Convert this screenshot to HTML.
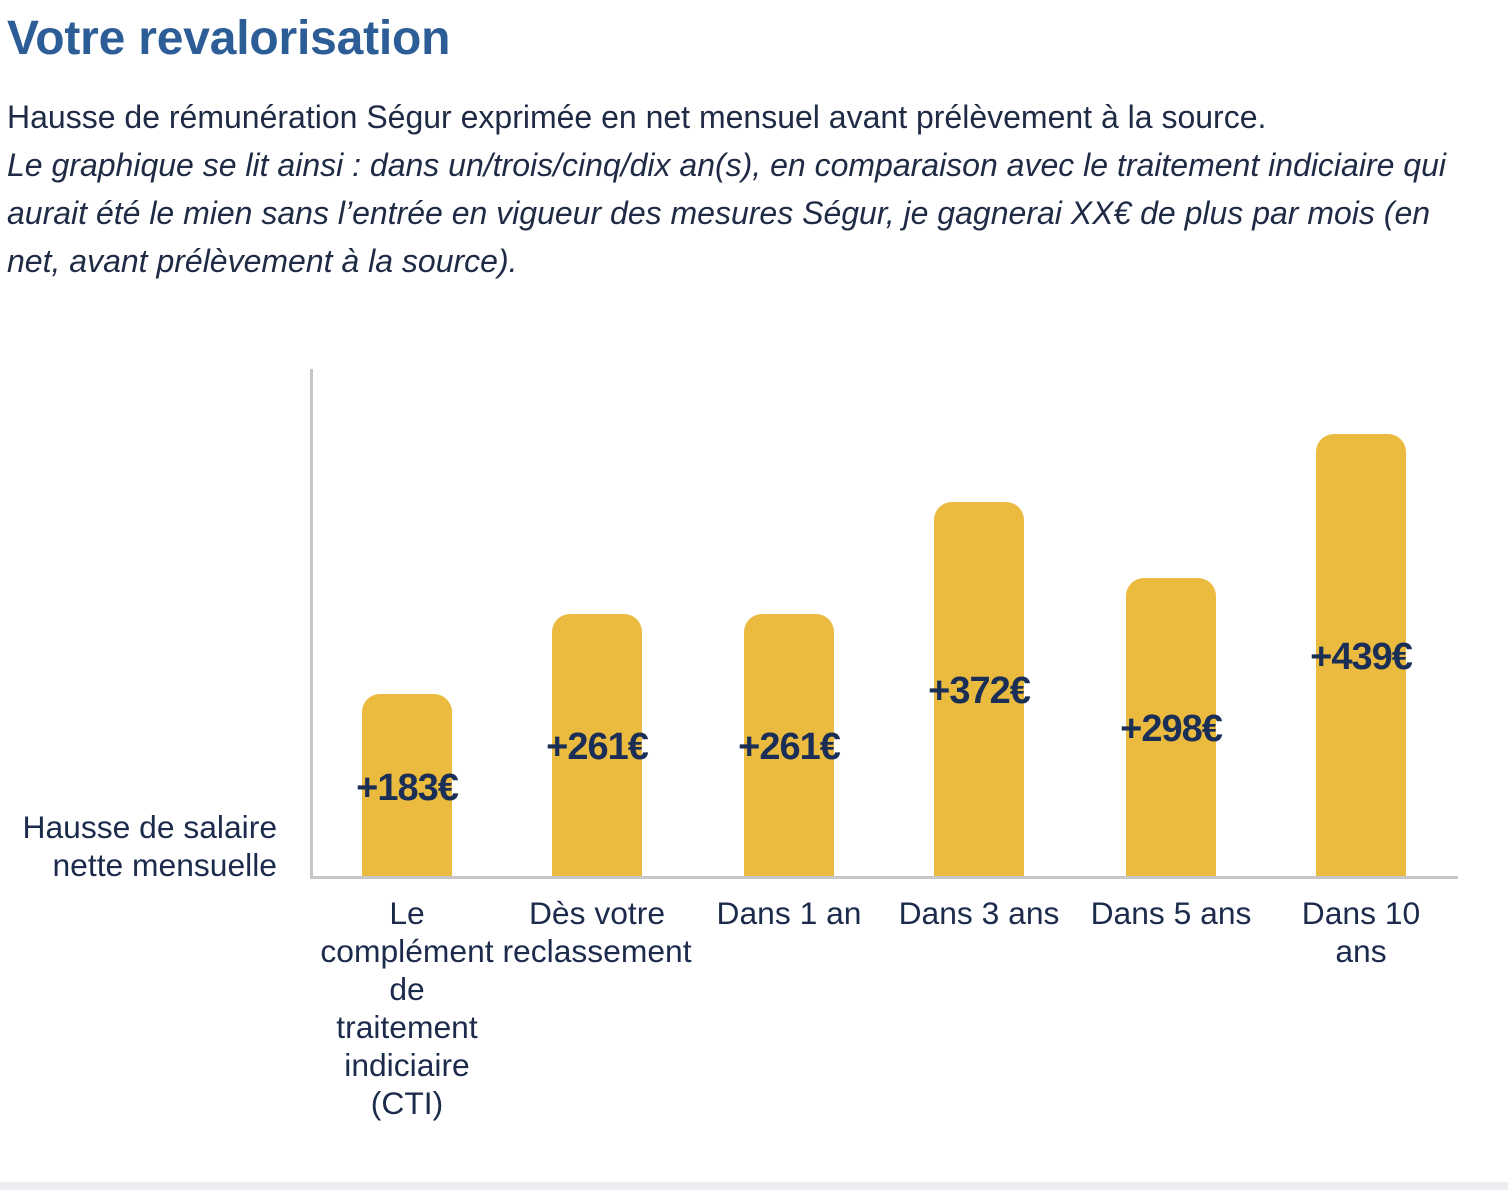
<!DOCTYPE html>
<html>
<head>
<meta charset="utf-8">
<style>
  html, body { margin:0; padding:0; }
  body { width:1508px; height:1190px; position:relative; background:#fff; overflow:hidden;
         font-family:"Liberation Sans", Arial, sans-serif; color:#1f2d4d; }
  .abs { position:absolute; white-space:nowrap; }
  .title { left:7px; top:11px; font-size:48px; line-height:56px; font-weight:bold; color:#2d5d97; letter-spacing:-0.2px; }
  .sub { left:7px; font-size:32px; line-height:48px; color:#1f2a45; }
  .it { font-style:italic; }
  .bar { position:absolute; width:90px; background:#ebbb40; border-radius:18px 18px 0 0; }
  .val { position:absolute; width:200px; text-align:center; font-weight:bold; font-size:38px; line-height:40px; letter-spacing:-1px; color:#1b2f56; }
  .cat { position:absolute; width:240px; text-align:center; font-size:31.8px; line-height:38px; color:#1c2b4b; }
  .ylab { position:absolute; right:1231px; top:808px; text-align:right; font-size:31.8px; line-height:38px; color:#1c2b4b; white-space:nowrap; }
</style>
</head>
<body>
<div class="abs title">Votre revalorisation</div>
<div class="abs sub" style="top:93px;">Hausse de rémunération Ségur exprimée en net mensuel avant prélèvement à la source.</div>
<div class="abs sub it" style="top:141px;">Le graphique se lit ainsi : dans un/trois/cinq/dix an(s), en comparaison avec le traitement indiciaire qui</div>
<div class="abs sub it" style="top:189px;">aurait été le mien sans l’entrée en vigueur des mesures Ségur, je gagnerai XX€ de plus par mois (en</div>
<div class="abs sub it" style="top:237px;">net, avant prélèvement à la source).</div>

<!-- axes -->
<div style="position:absolute; left:310px; top:369px; width:3px; height:510px; background:#c6c6c6;"></div>
<div style="position:absolute; left:310px; top:876px; width:1148px; height:3px; background:#c6c6c6;"></div>

<!-- bars -->
<div class="bar" style="left:362px; top:694px; height:182px;"></div>
<div class="bar" style="left:552px; top:614px; height:262px;"></div>
<div class="bar" style="left:744px; top:614px; height:262px;"></div>
<div class="bar" style="left:934px; top:502px; height:374px;"></div>
<div class="bar" style="left:1126px; top:578px; height:298px;"></div>
<div class="bar" style="left:1316px; top:434px; height:442px;"></div>

<!-- values -->
<div class="val" style="left:307px; top:768px;">+183€</div>
<div class="val" style="left:497px; top:727px;">+261€</div>
<div class="val" style="left:689px; top:727px;">+261€</div>
<div class="val" style="left:879px; top:671px;">+372€</div>
<div class="val" style="left:1071px; top:709px;">+298€</div>
<div class="val" style="left:1261px; top:637px;">+439€</div>

<!-- y label -->
<div class="ylab">Hausse de salaire<br>nette mensuelle</div>

<!-- categories -->
<div class="cat" style="left:287px; top:894px;">Le<br>complément<br>de<br>traitement<br>indiciaire<br>(CTI)</div>
<div class="cat" style="left:477px; top:894px;">Dès votre<br>reclassement</div>
<div class="cat" style="left:669px; top:894px;">Dans 1 an</div>
<div class="cat" style="left:859px; top:894px;">Dans 3 ans</div>
<div class="cat" style="left:1051px; top:894px;">Dans 5 ans</div>
<div class="cat" style="left:1241px; top:894px;">Dans 10<br>ans</div>

<!-- bottom strip -->
<div style="position:absolute; left:0; top:1182px; width:1508px; height:8px; background:#ededf2;"></div>
</body>
</html>
